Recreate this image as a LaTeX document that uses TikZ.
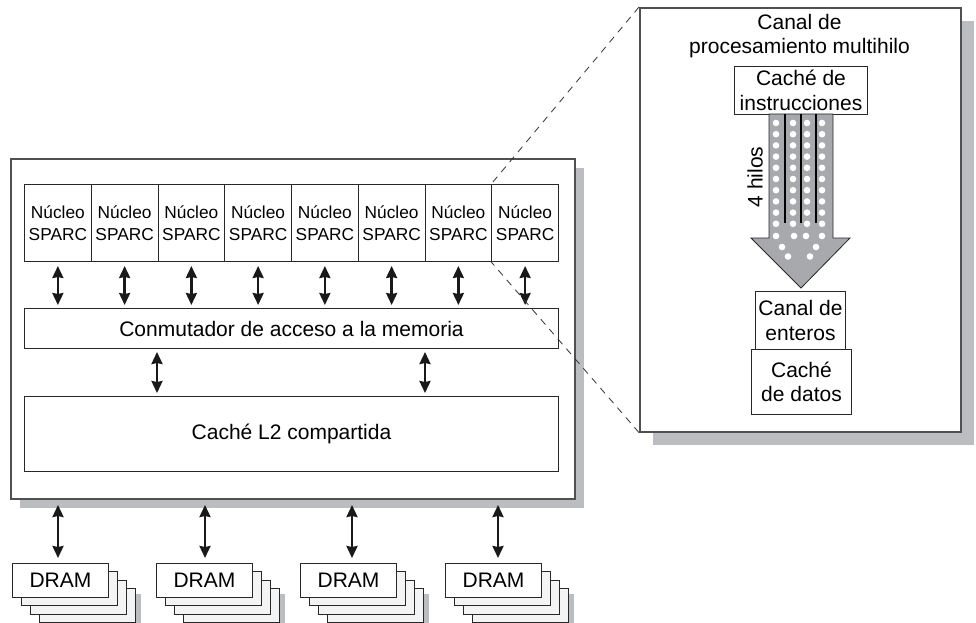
\documentclass[tikz,border=0pt]{standalone}
\usepackage{fontspec}
\setmainfont{Liberation Sans}
\usetikzlibrary{arrows.meta,backgrounds}
\definecolor{shadowgrey}{RGB}{188,189,193}
\definecolor{framegrey}{RGB}{80,80,83}
\definecolor{boxline}{RGB}{40,40,43}
\definecolor{arrowgrey}{RGB}{168,169,173}
\definecolor{backgrey}{RGB}{244,244,244}
\tikzset{
  bigfont/.style={font=\fontsize{21}{24.5}\selectfont},
  box/.style={draw=boxline, line width=1pt, fill=white, inner sep=0pt, align=center, anchor=north west, bigfont},
  corebox/.style={box, minimum width=66.75pt, minimum height=77pt, font=\fontsize{17.3}{21.5}\selectfont},
  frame/.style={draw=framegrey, line width=1.6pt, fill=white, inner sep=0pt, anchor=north west},
  biarrow/.style={{Stealth[length=12pt,width=11pt,inset=1pt]}-{Stealth[length=12pt,width=11pt,inset=1pt]}, line width=2.4pt, black!90},
  dashline/.style={draw=black!80, line width=0.8pt, dash pattern=on 7pt off 6pt},
  drambox/.style={box, minimum width=96pt, minimum height=34pt},
  threadline/.style={line width=1.4pt, black},
  dot/.style={fill=white}
}
\begin{document}
\begin{tikzpicture}[x=1pt,y=-1pt]
\useasboundingbox (0,0) rectangle (976,623);

% main chip frame with shadow
\fill[shadowgrey] (20,168) rectangle (584,508);
\node[frame, minimum width=564pt, minimum height=340pt] (main) at (10,158) {};

% cores
\foreach \i in {1,...,8}
  \node[corebox] (c\i) at ({24+(\i-1)*66.75},184) {Núcleo\\SPARC};

% switch and L2
\node[box, minimum width=534pt, minimum height=40pt] (sw) at (24,308) {Conmutador de acceso a la memoria};
\node[box, minimum width=534pt, minimum height=75pt] (l2) at (24,396) {Caché L2 compartida};

\foreach \i in {1,...,8}
  \draw[biarrow, shorten <=4pt, shorten >=3pt] (c\i.south) -- (c\i.south |- sw.north);

\coordinate (s1) at (157,348);
\coordinate (s2) at (425,348);
\draw[biarrow, shorten <=4pt, shorten >=3pt] (s1) -- (s1 |- l2.north);
\draw[biarrow, shorten <=4pt, shorten >=3pt] (s2) -- (s2 |- l2.north);

% DRAM stacks
\foreach \i/\x/\ax in {1/12/58,2/156/205,3/300/352,4/445/498} {
  \fill[shadowgrey] ({\x+33},594) rectangle ({\x+129},628);
  \node[drambox, fill=backgrey] (d\i z) at ({\x+27},588) {};
  \node[drambox, fill=backgrey] (d\i y) at ({\x+18},579.5) {};
  \node[drambox, fill=backgrey] (d\i x) at ({\x+9},571) {};
  \node[drambox] (d\i) at (\x,563) {DRAM};
  \coordinate (m\i) at (\ax,498);
  \draw[biarrow, shorten <=7pt, shorten >=5pt] (m\i) -- (m\i |- d\i.north);
}

% right panel
\fill[shadowgrey] (653,21) rectangle (974,445);
\node[frame, minimum width=321pt, minimum height=424pt] (panel) at (639,7) {};
\node[bigfont, align=center] (title) at (799.5,36) {Canal de\\procesamiento multihilo};
\node[box, minimum width=133pt, minimum height=48pt] (ic) at (734,66) {Caché de\\instrucciones};
\node[box, minimum width=90pt, minimum height=58pt] (ce) at (755,291) {Canal de\\enteros};
\node[box, minimum width=100pt, minimum height=65pt] (dc) at (751,349) {Caché\\de datos};

% big thread arrow
\draw[draw=boxline, line width=0.8pt, fill=arrowgrey]
  (769,114) -- (769,238) -- (751,238) -- (801,288) -- (850,238) -- (833,238) -- (833,114) -- cycle;
\foreach \lx in {785,801,816}
  \draw[threadline] (\lx,114) -- (\lx,223);
\foreach \cx in {776,793,807,822}
  \foreach \k in {0,...,9}
    \fill[dot] (\cx,{123+11.2*\k}) circle[radius=3.3pt];
\foreach \cx/\cy in {776/236,794/236,806/236,822/236,782/247,816/247,788/256.5,810/256.5}
  \fill[dot] (\cx,\cy) circle[radius=3.3pt];
\node[bigfont, rotate=90] (hilos) at (755,177) {4 hilos};

% zoom lines
\draw[dashline] (panel.north west) -- (c8.north west);
\draw[dashline] (panel.south west) -- (c8.south west);
\end{tikzpicture}
\end{document}
